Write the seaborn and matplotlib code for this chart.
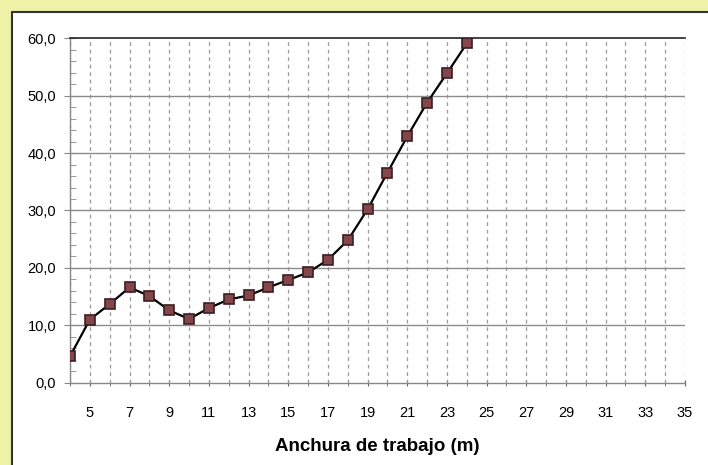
import numpy as np
import pandas as pd
import matplotlib
matplotlib.use('Agg')
import matplotlib.pyplot as plt
import seaborn as sns
from matplotlib.ticker import MultipleLocator, FuncFormatter
from matplotlib.patches import Rectangle
from matplotlib.lines import Line2D

# datos
anchura = [4, 5, 6, 7, 8, 9, 10, 11, 12, 13, 14, 15, 16, 17, 18, 19, 20, 21, 22, 23, 24, 25]
valor = [4.6, 11.0, 13.7, 16.6, 15.1, 12.6, 11.1, 13.0, 14.5, 15.2, 16.6, 17.9, 19.2, 21.4,
         24.8, 30.2, 36.6, 42.9, 48.8, 53.9, 59.1, 63.5]
xticks = list(range(5, 36, 2))
yticks = [0, 10, 20, 30, 40, 50, 60]

df = pd.DataFrame({'x': anchura, 'y': valor})

sns.set_style('white')
plt.rcParams['font.family'] = ['Liberation Sans', 'DejaVu Sans']

fig = plt.figure(figsize=(7.08, 4.65), dpi=100)
fig.patch.set_facecolor('white')

# marco amarillo (izquierda y arriba)
amarillo = '#eef2a6'
fig.patches.append(Rectangle((0, 0), 11 / 708, 1, transform=fig.transFigure,
                             facecolor=amarillo, edgecolor='none', zorder=0))
fig.patches.append(Rectangle((0, 1 - 12 / 465), 1, 12 / 465, transform=fig.transFigure,
                             facecolor=amarillo, edgecolor='none', zorder=0))
fig.lines.append(Line2D([11.5 / 708, 11.5 / 708], [0, 1 - 12.5 / 465], transform=fig.transFigure,
                        color='#333333', lw=1.5))
fig.lines.append(Line2D([11.5 / 708, 1], [1 - 12.5 / 465, 1 - 12.5 / 465], transform=fig.transFigure,
                        color='#333333', lw=1.5))

ax = fig.add_axes([70 / 708, (465 - 382.7) / 465, (685 - 70) / 708, (382.7 - 38.3) / 465])

sns.lineplot(data=df, x='x', y='y', ax=ax, color='black', lw=1.6, marker='s',
             markersize=7, markerfacecolor='#84464a', markeredgecolor='#3a1f22',
             markeredgewidth=1.2, zorder=5)

ax.set_xlim(4, 35)
ax.set_ylim(0, 60)

ax.set_xticks(xticks)
ax.xaxis.set_minor_locator(MultipleLocator(1))
ax.set_yticks(yticks)
ax.yaxis.set_minor_locator(MultipleLocator(2))
ax.yaxis.set_major_formatter(FuncFormatter(lambda v, p: f'{v:.1f}'.replace('.', ',')))

# rejilla
ax.grid(False)
for xv in range(4, 36):
    ax.axvline(xv, color='#999999', lw=0.9, ls=(0, (3, 3)), zorder=1)
for yv in yticks[1:-1]:
    ax.axhline(yv, color='#8c8c8c', lw=1.0, zorder=1)

for s in ['left', 'bottom']:
    ax.spines[s].set_color('#888888')
    ax.spines[s].set_linewidth(1.0)
ax.spines['top'].set_color('#222222')
ax.spines['top'].set_linewidth(1.2)
ax.spines['right'].set_visible(False)

ax.tick_params(axis='x', which='both', direction='inout', length=5, color='#666666',
               labelsize=10.5, labelcolor='black', pad=14, bottom=True)
ax.tick_params(axis='y', which='both', direction='in', length=4, color='#888888',
               labelsize=10.5, labelcolor='black', pad=6, left=True)
ax.tick_params(axis='y', which='major', direction='inout', length=8)

ax.set_xlabel('Anchura de trabajo (m)', fontsize=13.5, fontweight='bold', color='black',
              family=['Liberation Sans', 'DejaVu Sans'], labelpad=13)
ax.set_ylabel('')

fig.savefig('out.png', dpi=100, facecolor=fig.get_facecolor())
